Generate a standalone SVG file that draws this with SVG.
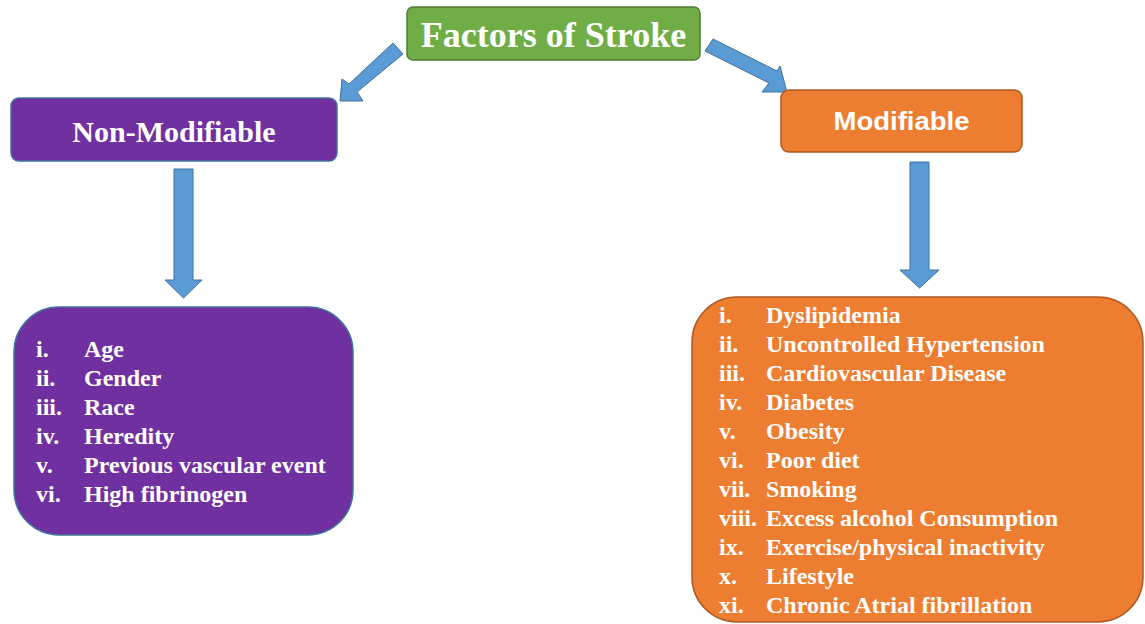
<svg xmlns="http://www.w3.org/2000/svg" width="1145" height="624" viewBox="0 0 1145 624">
<style>
.serif{font-family:"Liberation Serif","Times New Roman",serif;font-weight:bold;fill:#ffffff;}
.sans{font-family:"Liberation Sans",Arial,sans-serif;font-weight:bold;fill:#ffffff;}
.arrow{fill:#5B9BD5;stroke:#41719C;stroke-width:1;}
.purple{fill:#7030A0;stroke:#41719C;stroke-width:1.5;}
.orange{fill:#ED7D31;stroke:#AE5A21;stroke-width:1.5;}
.green{fill:#70AD47;stroke:#507E32;stroke-width:1.5;}
.item{font-size:24px;}
</style>
<rect width="1145" height="624" fill="#ffffff"/>
<g id="connectors">
  <polygon class="arrow" points="393,43 403,54 357,92 363,101 340,101 342,79 349,84"/>
  <polygon class="arrow" points="713,39 777,71 780,66 787,92 762,92 769,83 705,51"/>
  <polygon class="arrow" points="174,169 193,169 193,280 202,280 183.5,298 165,280 174,280"/>
  <polygon class="arrow" points="910,162 929,162 929,270 939,270 919.5,288 900,270 910,270"/>
</g>
<g id="title">
  <rect class="green" x="407" y="7" width="293" height="53" rx="6"/>
  <text class="serif" x="553.5" y="47" font-size="36" text-anchor="middle">Factors of Stroke</text>
</g>
<g id="non-modifiable">
  <rect class="purple" x="11" y="98" width="326" height="63" rx="8"/>
  <text class="serif" x="174" y="142" font-size="30" text-anchor="middle">Non-Modifiable</text>
</g>
<g id="modifiable">
  <rect class="orange" x="781" y="90" width="241" height="62" rx="8"/>
  <text class="sans" x="901.5" y="130" font-size="25" text-anchor="middle" textLength="136" lengthAdjust="spacingAndGlyphs">Modifiable</text>
</g>
<g id="non-modifiable-list">
  <rect class="purple" x="14" y="307" width="339" height="228" rx="45"/>
  <g class="serif item">
    <text x="36" y="357">i.</text><text x="84" y="357">Age</text>
    <text x="36" y="386">ii.</text><text x="84" y="386">Gender</text>
    <text x="36" y="415">iii.</text><text x="84" y="415">Race</text>
    <text x="36" y="444">iv.</text><text x="84" y="444">Heredity</text>
    <text x="36" y="473">v.</text><text x="84" y="473">Previous vascular event</text>
    <text x="36" y="502">vi.</text><text x="84" y="502">High fibrinogen</text>
  </g>
</g>
<g id="modifiable-list">
  <rect class="orange" x="692" y="297" width="451" height="325" rx="45"/>
  <g class="serif item">
    <text x="719" y="323">i.</text><text x="766" y="323">Dyslipidemia</text>
    <text x="719" y="352">ii.</text><text x="766" y="352">Uncontrolled Hypertension</text>
    <text x="719" y="381">iii.</text><text x="766" y="381">Cardiovascular Disease</text>
    <text x="719" y="410">iv.</text><text x="766" y="410">Diabetes</text>
    <text x="719" y="439">v.</text><text x="766" y="439">Obesity</text>
    <text x="719" y="468">vi.</text><text x="766" y="468">Poor diet</text>
    <text x="719" y="497">vii.</text><text x="766" y="497">Smoking</text>
    <text x="719" y="526">viii.</text><text x="766" y="526">Excess alcohol Consumption</text>
    <text x="719" y="555">ix.</text><text x="766" y="555">Exercise/physical inactivity</text>
    <text x="719" y="584">x.</text><text x="766" y="584">Lifestyle</text>
    <text x="719" y="613">xi.</text><text x="766" y="613">Chronic Atrial fibrillation</text>
  </g>
</g>
</svg>
